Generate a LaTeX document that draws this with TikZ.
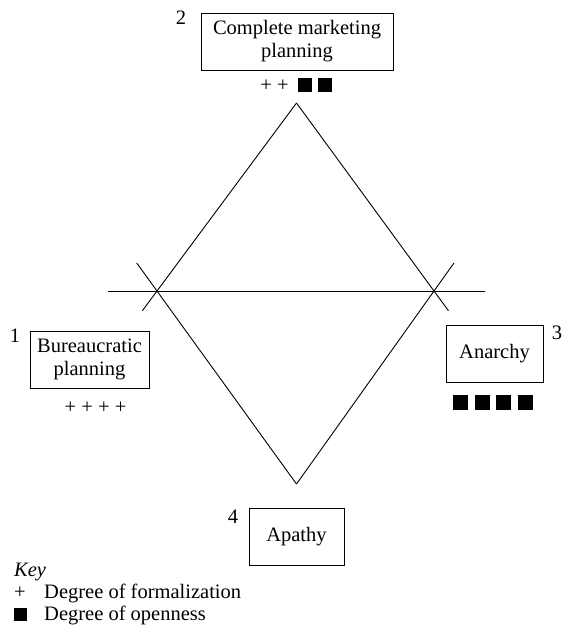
\documentclass[tikz,border=0pt]{standalone}
\usepackage{fontspec}
\setmainfont{Liberation Serif}
\usetikzlibrary{calc}
% solid black square used in the marker rows and the key
\newcommand\blk[1][14pt]{\rule[-0.5pt]{#1}{#1}}
\begin{document}
\begin{tikzpicture}[x=1pt,y=-1pt,
  every node/.style={font=\fontsize{20.5}{23}\selectfont, inner sep=0pt},
  planbox/.style={draw, line width=0.9pt, align=center, minimum height=57pt},
  num/.style={},
  marks/.style={anchor=center},
  keytext/.style={anchor=base west},
  edge/.style={line width=0.9pt}]
\useasboundingbox (0,0) rectangle (567,629);

% the four planning styles
\node[planbox, minimum width=192pt] (cmp) at (297,41.5) {Complete marketing\\planning};
\node[planbox, minimum width=119pt] (bur) at (89.5,359.5) {Bureaucratic\\planning};
\node[planbox, minimum width=97pt]  (ana) at (494.5,353.5) {Anarchy};
\node[planbox, minimum width=95pt]  (apa) at (296.5,536.5) {Apathy};

% their numbers
\node[num] (n2) at (181,18) {2};
\node[num] (n1) at (15,336) {1};
\node[num] (n3) at (557,333) {3};
\node[num] (n4) at (233,517) {4};

% formalization / openness markers
\node[marks] (mcmp) at (296,85) {+ +\hspace{9pt}\blk\hspace{6pt}\blk};
\node[marks] (mbur) at (95.5,408) {+ + + +};
\node[marks] (mana) at (493,402) {\blk[15pt]\hspace{6.7pt}\blk[15pt]\hspace{6.7pt}\blk[15pt]\hspace{6.7pt}\blk[15pt]};

% diamond with the crossing axis
\coordinate (T)  at (296.5,103);
\coordinate (B)  at (296.5,484);
\coordinate (XL) at (157,291);
\coordinate (XR) at (434,291);
\coordinate (HL) at (108,291);
\coordinate (HR) at (485,291);
\draw[edge] (HL) -- (HR);
\draw[edge] (T) -- ($(T)!1.105!(XL)$);
\draw[edge] (T) -- ($(T)!1.105!(XR)$);
\draw[edge] (B) -- ($(B)!1.145!(XL)$);
\draw[edge] (B) -- ($(B)!1.145!(XR)$);

% key
\node[keytext] (key) at (14,576) {\itshape Key};
\node[keytext] (kplus) at (14,598) {+};
\node[keytext] (kplust) at (44,598) {Degree of formalization};
\node[keytext] (ksq) at (14,620) {\blk[13pt]};
\node[keytext] (ksqt) at (44,620) {Degree of openness};
\end{tikzpicture}
\end{document}
